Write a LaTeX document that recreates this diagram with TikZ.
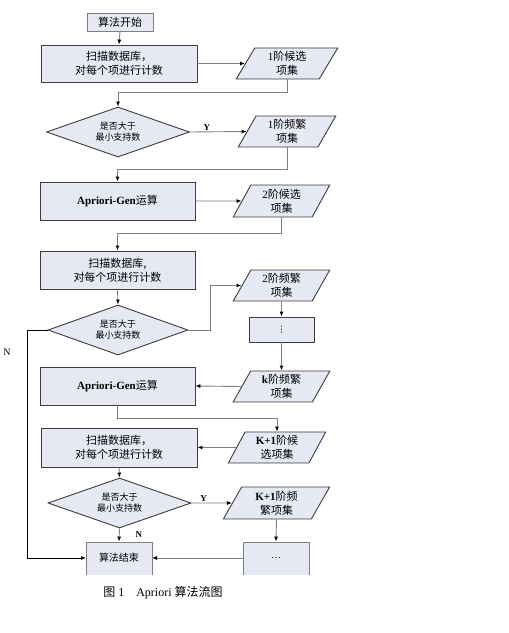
\documentclass[tikz,border=0pt]{standalone}
\usepackage{fontspec}
\setmainfont{Liberation Serif}
\newfontfamily\cjk{Noto Sans CJK SC}
\newfontfamily\djv{DejaVu Sans}
\newcommand{\zh}[1]{{\cjk #1}}
\usetikzlibrary{shapes.geometric,arrows.meta}
\definecolor{boxfill}{HTML}{E6E9F3}
\definecolor{boxline}{HTML}{3C3C3C}
\definecolor{conn}{HTML}{808080}
\tikzset{
  base/.style={fill=boxfill,draw=boxline,line width=0.9pt,inner sep=1pt,align=center,
    font=\fontsize{11}{14}\selectfont},
  procbox/.style={base,rectangle,minimum height=38pt},
  iobox/.style={base,trapezium,trapezium left angle=66,trapezium right angle=114,
    trapezium stretches=true,minimum width=100pt,minimum height=31pt},
  decide/.style={base,diamond,aspect=2.9,inner sep=0pt,minimum width=142pt,minimum height=50pt,
    font=\fontsize{9}{11}\selectfont},
  arr/.style={draw=conn,line width=0.9pt,-{Latex[length=5pt,width=4pt,color=black]}},
  lbl/.style={font=\fontsize{9}{10}\selectfont\bfseries,inner sep=1pt}
}
\begin{document}
\begin{tikzpicture}[x=1pt,y=-1pt]
\useasboundingbox[fill=white] (0,0) rectangle (509,633);
\begin{scope}
\clip (0,0) rectangle (509,574.5);
\node[procbox,minimum width=66pt,minimum height=18pt,draw=conn] (start) at (120,22) {\zh{算法开始}};
\node[procbox,minimum width=156pt,minimum height=37pt] (b1) at (119,63.5) {\zh{扫描数据库，}\\\zh{对每个项进行计数}};
\node[iobox,minimum width=102pt] (p1) at (287,63.5) {1\zh{阶候选}\\\zh{项集}};
\node[decide,minimum width=143pt] (d1) at (118,132) {\zh{是否大于}\\\zh{最小支持数}};
\node[iobox,minimum width=98pt] (p2) at (287,131.5) {1\zh{阶频繁}\\\zh{项集}};
\node[procbox,minimum width=155pt] (b2) at (117.5,201) {\textbf{Apriori-Gen}\zh{运算}};
\node[iobox,minimum width=97pt,minimum height=32pt] (p3) at (281.5,201) {2\zh{阶候选}\\\zh{项集}};
\node[procbox,minimum width=155pt] (b3) at (117.5,270) {\zh{扫描数据库,}\\\zh{对每个项进行计数}};
\node[decide,minimum width=140pt] (d2) at (118,330) {\zh{是否大于}\\\zh{最小支持数}};
\node[iobox,minimum width=97pt] (p4) at (281.5,285.5) {2\zh{阶频繁}\\\zh{项集}};
\node[procbox,minimum width=65pt,minimum height=25pt,font=\fontsize{9}{9}\selectfont] (v1) at (281.5,329.5) {\djv ⋮};
\node[iobox,minimum width=97pt] (p5) at (281.5,386.5) {\textbf{k}\zh{阶频繁}\\\zh{项集}};
\node[procbox,minimum width=155pt] (b4) at (117.5,386) {\textbf{Apriori-Gen}\zh{运算}};
\node[iobox,minimum width=98pt] (p6) at (277,447.5) {\textbf{K+1}\zh{阶候}\\\zh{选项集}};
\node[procbox,minimum width=156pt,minimum height=39pt] (b5) at (119,447.5) {\zh{扫描数据库，}\\\zh{对每个项进行计数}};
\node[decide,minimum width=143pt] (d3) at (119.5,503) {\zh{是否大于}\\\zh{最小支持数}};
\node[iobox,minimum width=107pt,minimum height=32pt] (p7) at (276.5,503) {\textbf{K+1}\zh{阶频}\\\zh{繁项集}};
\node[procbox,minimum width=66pt,minimum height=40pt,draw=conn] (end) at (119,562) {};
\node (endt) at (119,558) {\zh{算法结束}};
\node[procbox,minimum width=66pt,minimum height=40pt,draw=conn] (v2) at (276,562) {};
\node (v2t) at (276,558) {\dots};
\coordinate (endw) at (86,558);
\coordinate (ende) at (152,558);
\coordinate (v2w) at (243,558);
% connectors
\draw[arr] (start.south) -- (b1.north);
\draw[arr] (b1.east) -- (p1.west);
\draw[arr] (p1.south) -- ++(0,13) -| (d1.north);
\draw[arr] (d1.east) -- node[lbl,above,pos=0.3] {Y} (p2.west);
\draw[arr] (p2.south) -- ++(0,22) -| (b2.north);
\draw[arr] (b2.east) -- (p3.west);
\draw[arr] (p3.south) -- ++(0,16) -| (b3.north);
\draw[arr] (b3.south) -- (d2.north);
\draw[arr] (d2.east) -- ++(22,0) |- (p4.west);
\draw[arr] (p4.south) -- (v1.north);
\draw[arr] (v1.south) -- (p5.north);
\draw[arr] (p5.west) -- (b4.east);
\draw[arr] (b4.south) -- ++(0,13) -| (p6.north);
\draw[arr] (p6.west) -- (b5.east);
\draw[arr] (b5.south) -- (d3.north);
\draw[arr] (d3.east) -- node[lbl,above,pos=0.3] {Y} (p7.west);
\draw[arr] (p7.south) -- (v2.north);
\draw[arr] (d3.south) -- node[lbl,right=15pt,pos=0.45] {N} (end.north);
\draw[arr] (v2w) -- (ende);
\draw[arr,draw=black] (d2.west) -- (27,330) |- (endw);
\end{scope}
\node[lbl,font=\fontsize{10}{10}\selectfont] (nlab) at (7,352) {N};
\node[font=\fontsize{12}{12}\selectfont] (cap) at (163,593) {\zh{图} 1\quad Apriori \zh{算法流图}};
\end{tikzpicture}
\end{document}
